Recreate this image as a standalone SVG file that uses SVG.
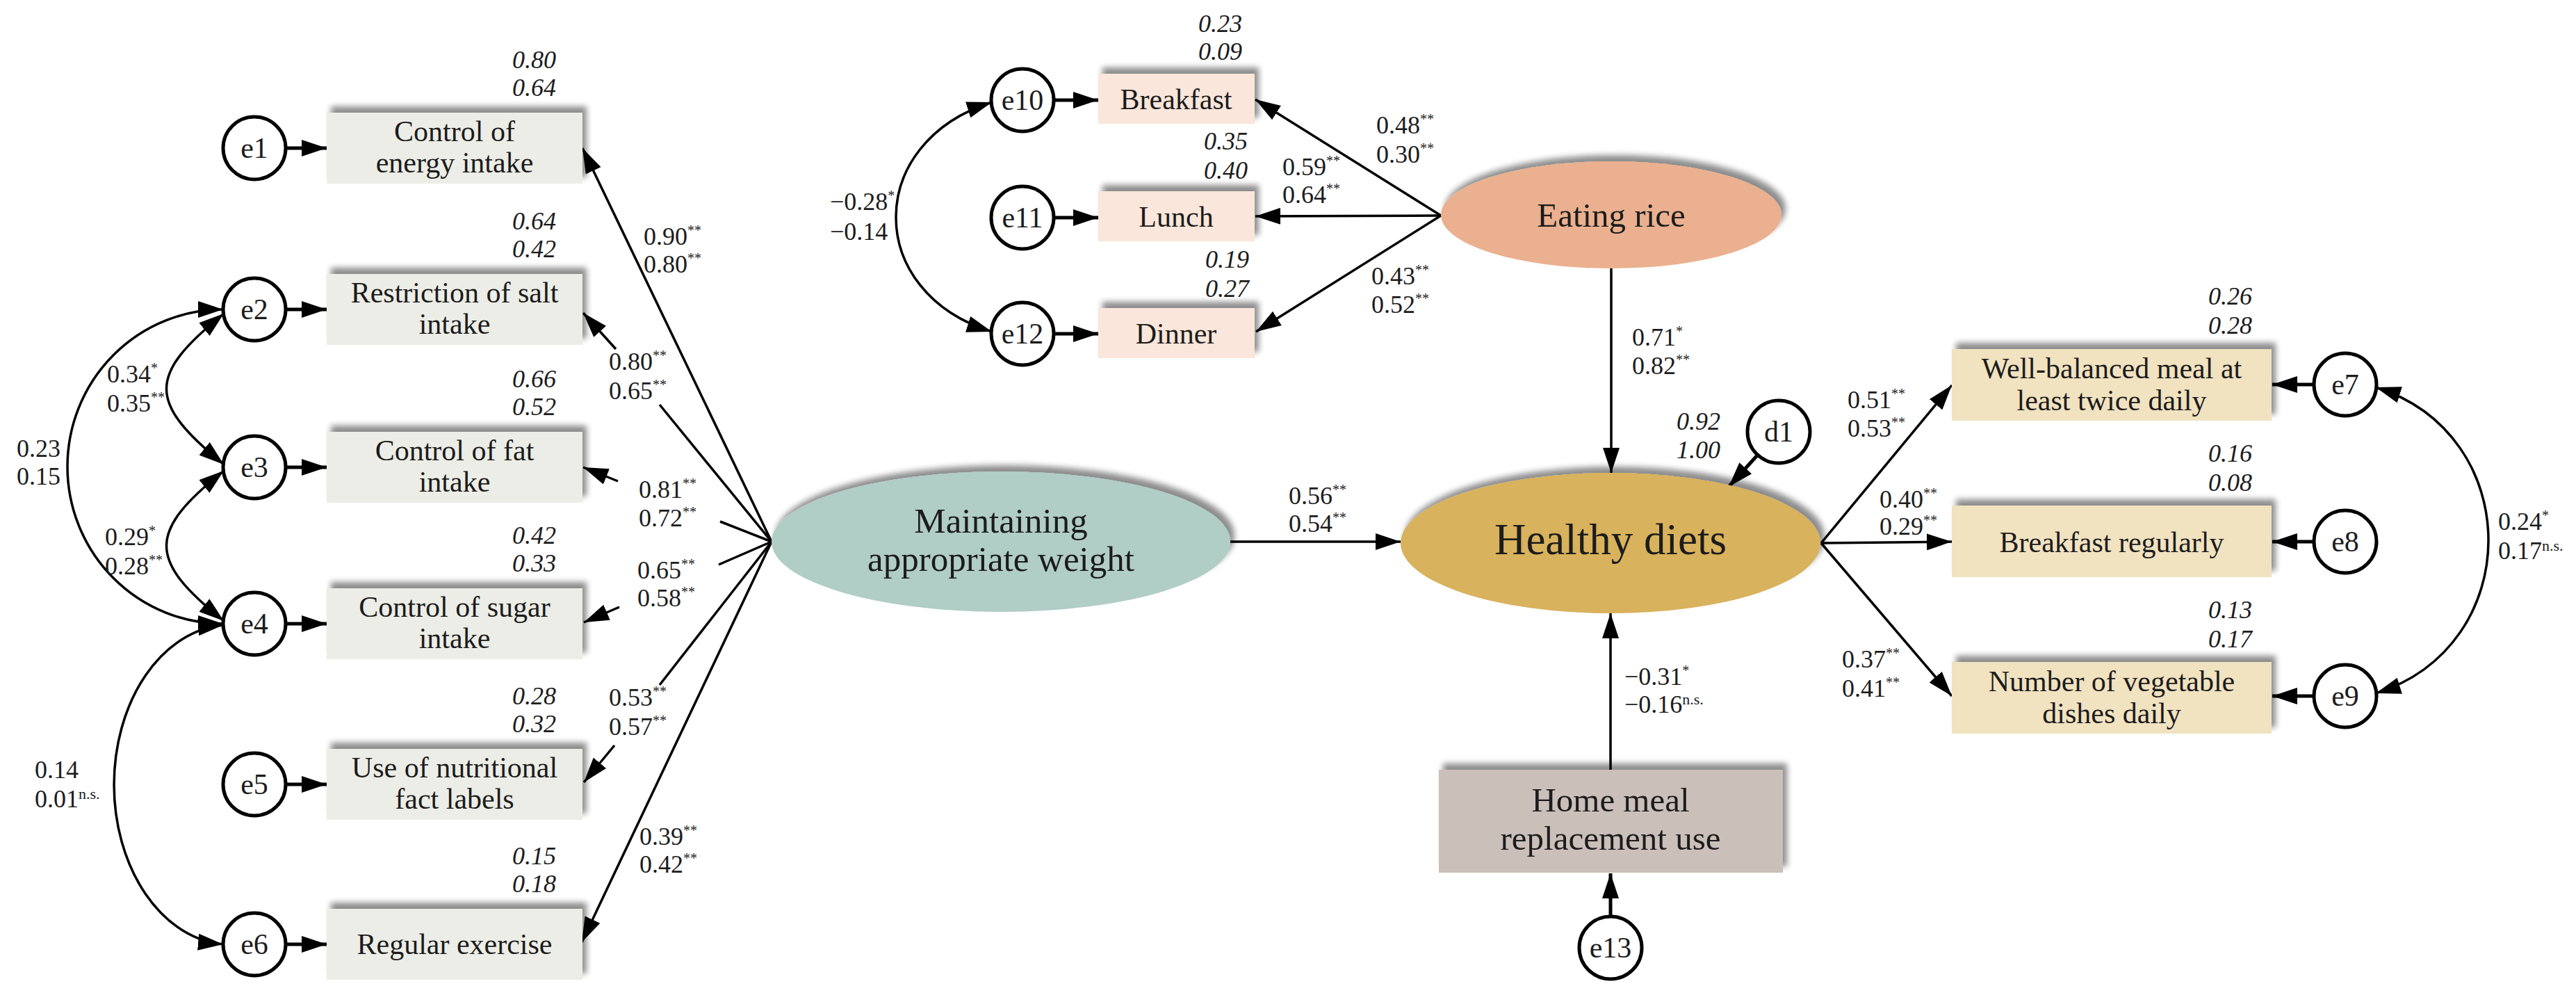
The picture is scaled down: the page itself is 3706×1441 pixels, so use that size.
<svg xmlns="http://www.w3.org/2000/svg" width="3706" height="1441" viewBox="0 0 3706 1441">
<style>
text{font-family:"Liberation Serif","Times New Roman",serif;fill:#1c1c1c}
.bx{font-size:42px;text-anchor:middle}
.el{font-size:42px;text-anchor:middle}
.lv{text-anchor:middle}
.c{font-size:36px}
.r2{font-size:36px;font-style:italic;text-anchor:end}
.s{font-size:20px}
.ns{font-size:22px}
.circ{fill:#fff;stroke:#000;stroke-width:5}
.ln{fill:none;stroke:#000;stroke-width:3.5}
.ea{fill:none;stroke:#000;stroke-width:5}
.g1{fill:#ecede6}
.g2{fill:#fae6da}
.g3{fill:#f1e2c0}
.g4{fill:#cbbfba}
</style>
<defs>
<marker id="ah" viewBox="0 0 36 24" refX="36" refY="12" markerWidth="36" markerHeight="24" markerUnits="userSpaceOnUse" orient="auto-start-reverse"><path d="M0,0 L36,12 L0,24 z" fill="#000"/></marker>
<filter id="sh" x="-5%" y="-25%" width="115%" height="150%">
<feGaussianBlur in="SourceAlpha" stdDeviation="4"/>
<feOffset dx="6" dy="-9"/>
<feComponentTransfer><feFuncA type="linear" slope="0.45"/></feComponentTransfer>
<feMerge><feMergeNode/><feMergeNode in="SourceGraphic"/></feMerge>
</filter>
</defs>
<rect width="3706" height="1441" fill="#fff"/>

<!-- connectors -->
<g id="connectors">
<!-- e -> left boxes -->
<path class="ea" d="M411,213 H470" marker-end="url(#ah)"/>
<path class="ea" d="M411,445 H470" marker-end="url(#ah)"/>
<path class="ea" d="M411,672 H470" marker-end="url(#ah)"/>
<path class="ea" d="M411,897 H470" marker-end="url(#ah)"/>
<path class="ea" d="M411,1128 H470" marker-end="url(#ah)"/>
<path class="ea" d="M411,1358 H470" marker-end="url(#ah)"/>
<!-- left covariances -->
<path class="ln" d="M322,451 C212,540 212,578 322,668" marker-start="url(#ah)" marker-end="url(#ah)"/>
<path class="ln" d="M322,677 C212,765 212,805 322,893" marker-start="url(#ah)" marker-end="url(#ah)"/>
<path class="ln" d="M321,445 A224 226 0 0 0 321,897" marker-start="url(#ah)" marker-end="url(#ah)"/>
<path class="ln" d="M321,899 A168 230 0 0 0 321,1358" marker-start="url(#ah)" marker-end="url(#ah)"/>
<!-- factor -> left boxes -->
<path class="ln" d="M1110,779 L838,213" marker-end="url(#ah)"/>
<path class="ln" d="M1110,779 L949,582"/>
<path class="ln" d="M886,502 L839,450" marker-end="url(#ah)"/>
<path class="ln" d="M1110,779 L1036,750"/>
<path class="ln" d="M889,692 L839,672" marker-end="url(#ah)"/>
<path class="ln" d="M1110,779 L1034,812"/>
<path class="ln" d="M891,873 L840,895" marker-end="url(#ah)"/>
<path class="ln" d="M1110,779 L949,985"/>
<path class="ln" d="M884,1072 L840,1125" marker-end="url(#ah)"/>
<path class="ln" d="M1110,779 L837,1355" marker-end="url(#ah)"/>
<!-- meals -->
<path class="ea" d="M1516,144 H1580" marker-end="url(#ah)"/>
<path class="ea" d="M1516,313 H1580" marker-end="url(#ah)"/>
<path class="ea" d="M1516,480 H1580" marker-end="url(#ah)"/>
<path class="ln" d="M1427,147 C1243,205 1243,420 1427,477" marker-start="url(#ah)" marker-end="url(#ah)"/>
<path class="ln" d="M2073,310 L1806,143" marker-end="url(#ah)"/>
<path class="ln" d="M2073,310 L1806,311" marker-end="url(#ah)"/>
<path class="ln" d="M2073,310 L1807,477" marker-end="url(#ah)"/>
<!-- structural -->
<path class="ln" d="M2318,386 V680" marker-end="url(#ah)"/>
<path class="ln" d="M1770,779 H2015" marker-end="url(#ah)"/>
<path class="ln" d="M2317,1107 V882" marker-end="url(#ah)"/>
<path class="ea" d="M2317,1318 V1256" marker-end="url(#ah)"/>
<path class="ea" d="M2528,655 L2487,700" marker-end="url(#ah)"/>
<!-- healthy -> right boxes -->
<path class="ln" d="M2620,781 L2808,554" marker-end="url(#ah)"/>
<path class="ln" d="M2620,781 L2808,779" marker-end="url(#ah)"/>
<path class="ln" d="M2620,781 L2808,1001" marker-end="url(#ah)"/>
<path class="ea" d="M3329,553 H3269" marker-end="url(#ah)"/>
<path class="ea" d="M3329,779 H3269" marker-end="url(#ah)"/>
<path class="ea" d="M3329,1001 H3269" marker-end="url(#ah)"/>
<path class="ln" d="M3418,557 C3634,625 3634,929 3418,997" marker-start="url(#ah)" marker-end="url(#ah)"/>
</g>

<!-- connector labels -->
<g id="labels">
<text class="c" x="926" y="352">0.90<tspan class="s" dy="-14">**</tspan></text>
<text class="c" x="926" y="392">0.80<tspan class="s" dy="-14">**</tspan></text>
<text class="c" x="876" y="532">0.80<tspan class="s" dy="-14">**</tspan></text>
<text class="c" x="876" y="574">0.65<tspan class="s" dy="-14">**</tspan></text>
<text class="c" x="919" y="716">0.81<tspan class="s" dy="-14">**</tspan></text>
<text class="c" x="919" y="757">0.72<tspan class="s" dy="-14">**</tspan></text>
<text class="c" x="917" y="832">0.65<tspan class="s" dy="-14">**</tspan></text>
<text class="c" x="917" y="872">0.58<tspan class="s" dy="-14">**</tspan></text>
<text class="c" x="876" y="1015">0.53<tspan class="s" dy="-14">**</tspan></text>
<text class="c" x="876" y="1057">0.57<tspan class="s" dy="-14">**</tspan></text>
<text class="c" x="920" y="1215">0.39<tspan class="s" dy="-14">**</tspan></text>
<text class="c" x="920" y="1255">0.42<tspan class="s" dy="-14">**</tspan></text>
<text class="c" x="24" y="657">0.23</text>
<text class="c" x="24" y="697">0.15</text>
<text class="c" x="154" y="550">0.34<tspan class="s" dy="-14">*</tspan></text>
<text class="c" x="154" y="592">0.35<tspan class="s" dy="-14">**</tspan></text>
<text class="c" x="151" y="784">0.29<tspan class="s" dy="-14">*</tspan></text>
<text class="c" x="151" y="826">0.28<tspan class="s" dy="-14">**</tspan></text>
<text class="c" x="50" y="1119">0.14</text>
<text class="c" x="50" y="1161">0.01<tspan class="ns" dy="-12">n.s.</tspan></text>
<text class="c" x="1194" y="302">−0.28<tspan class="s" dy="-14">*</tspan></text>
<text class="c" x="1194" y="345">−0.14</text>
<text class="c" x="1980" y="192">0.48<tspan class="s" dy="-14">**</tspan></text>
<text class="c" x="1980" y="234">0.30<tspan class="s" dy="-14">**</tspan></text>
<text class="c" x="1845" y="252">0.59<tspan class="s" dy="-14">**</tspan></text>
<text class="c" x="1845" y="292">0.64<tspan class="s" dy="-14">**</tspan></text>
<text class="c" x="1973" y="409">0.43<tspan class="s" dy="-14">**</tspan></text>
<text class="c" x="1973" y="450">0.52<tspan class="s" dy="-14">**</tspan></text>
<text class="c" x="2348" y="497">0.71<tspan class="s" dy="-14">*</tspan></text>
<text class="c" x="2348" y="538">0.82<tspan class="s" dy="-14">**</tspan></text>
<text class="c" x="1854" y="725">0.56<tspan class="s" dy="-14">**</tspan></text>
<text class="c" x="1854" y="765">0.54<tspan class="s" dy="-14">**</tspan></text>
<text class="c" x="2337" y="985">−0.31<tspan class="s" dy="-14">*</tspan></text>
<text class="c" x="2337" y="1025">−0.16<tspan class="ns" dy="-12">n.s.</tspan></text>
<text class="c" x="2658" y="587">0.51<tspan class="s" dy="-14">**</tspan></text>
<text class="c" x="2658" y="628">0.53<tspan class="s" dy="-14">**</tspan></text>
<text class="c" x="2704" y="730">0.40<tspan class="s" dy="-14">**</tspan></text>
<text class="c" x="2704" y="769">0.29<tspan class="s" dy="-14">**</tspan></text>
<text class="c" x="2650" y="960">0.37<tspan class="s" dy="-14">**</tspan></text>
<text class="c" x="2650" y="1002">0.41<tspan class="s" dy="-14">**</tspan></text>
<text class="c" x="3594" y="762">0.24<tspan class="s" dy="-14">*</tspan></text>
<text class="c" x="3594" y="804">0.17<tspan class="ns" dy="-12">n.s.</tspan></text>
</g>

<!-- left indicators -->
<g id="box-energy"><rect class="g1" x="470" y="162" width="368" height="102" filter="url(#sh)"/>
<text class="bx" x="654" y="203">Control of</text><text class="bx" x="654" y="248">energy intake</text>
<text class="r2" x="800" y="98">0.80</text><text class="r2" x="800" y="138">0.64</text></g>
<g id="box-salt"><rect class="g1" x="470" y="394" width="368" height="102" filter="url(#sh)"/>
<text class="bx" x="654" y="435">Restriction of salt</text><text class="bx" x="654" y="480">intake</text>
<text class="r2" x="800" y="330">0.64</text><text class="r2" x="800" y="370">0.42</text></g>
<g id="box-fat"><rect class="g1" x="470" y="621" width="368" height="102" filter="url(#sh)"/>
<text class="bx" x="654" y="662">Control of fat</text><text class="bx" x="654" y="707">intake</text>
<text class="r2" x="800" y="557">0.66</text><text class="r2" x="800" y="597">0.52</text></g>
<g id="box-sugar"><rect class="g1" x="470" y="846" width="368" height="102" filter="url(#sh)"/>
<text class="bx" x="654" y="887">Control of sugar</text><text class="bx" x="654" y="932">intake</text>
<text class="r2" x="800" y="782">0.42</text><text class="r2" x="800" y="822">0.33</text></g>
<g id="box-labels"><rect class="g1" x="470" y="1077" width="368" height="102" filter="url(#sh)"/>
<text class="bx" x="654" y="1118">Use of nutritional</text><text class="bx" x="654" y="1163">fact labels</text>
<text class="r2" x="800" y="1013">0.28</text><text class="r2" x="800" y="1053">0.32</text></g>
<g id="box-exercise"><rect class="g1" x="470" y="1307" width="368" height="102" filter="url(#sh)"/>
<text class="bx" x="654" y="1372">Regular exercise</text>
<text class="r2" x="800" y="1243">0.15</text><text class="r2" x="800" y="1283">0.18</text></g>

<g id="e1"><circle class="circ" cx="366" cy="213" r="45"/><text class="el" x="366" y="227">e1</text></g>
<g id="e2"><circle class="circ" cx="366" cy="445" r="45"/><text class="el" x="366" y="459">e2</text></g>
<g id="e3"><circle class="circ" cx="366" cy="672" r="45"/><text class="el" x="366" y="686">e3</text></g>
<g id="e4"><circle class="circ" cx="366" cy="897" r="45"/><text class="el" x="366" y="911">e4</text></g>
<g id="e5"><circle class="circ" cx="366" cy="1128" r="45"/><text class="el" x="366" y="1142">e5</text></g>
<g id="e6"><circle class="circ" cx="366" cy="1358" r="45"/><text class="el" x="366" y="1372">e6</text></g>

<!-- meals -->
<g id="box-breakfast"><rect class="g2" x="1580" y="106" width="225" height="72" filter="url(#sh)"/>
<text class="bx" x="1692" y="157">Breakfast</text>
<text class="r2" x="1787" y="46">0.23</text><text class="r2" x="1787" y="86">0.09</text></g>
<g id="box-lunch"><rect class="g2" x="1580" y="275" width="225" height="72" filter="url(#sh)"/>
<text class="bx" x="1692" y="326">Lunch</text>
<text class="r2" x="1795" y="215">0.35</text><text class="r2" x="1795" y="257">0.40</text></g>
<g id="box-dinner"><rect class="g2" x="1580" y="443" width="225" height="72" filter="url(#sh)"/>
<text class="bx" x="1692" y="494">Dinner</text>
<text class="r2" x="1797" y="385">0.19</text><text class="r2" x="1797" y="427">0.27</text></g>
<g id="e10"><circle class="circ" cx="1471" cy="144" r="45"/><text class="el" x="1471" y="158">e10</text></g>
<g id="e11"><circle class="circ" cx="1471" cy="313" r="45"/><text class="el" x="1471" y="327">e11</text></g>
<g id="e12"><circle class="circ" cx="1471" cy="480" r="45"/><text class="el" x="1471" y="494">e12</text></g>

<!-- latent factors -->
<g id="eating-rice"><ellipse cx="2318" cy="309" rx="245" ry="77" fill="#eab08f" filter="url(#sh)"/>
<text class="lv" x="2318" y="326" font-size="49">Eating rice</text></g>
<g id="maintaining-weight"><ellipse cx="1440" cy="779" rx="330" ry="101" fill="#b0cdc6" filter="url(#sh)"/>
<text class="lv" x="1440" y="766" font-size="51">Maintaining</text><text class="lv" x="1440" y="821" font-size="51">appropriate weight</text></g>
<g id="healthy-diets"><ellipse cx="2317" cy="781" rx="302" ry="101" fill="#d8b25c" filter="url(#sh)"/>
<text class="lv" x="2317" y="797" font-size="63">Healthy diets</text>
<text class="r2" x="2475" y="618">0.92</text><text class="r2" x="2475" y="659">1.00</text></g>
<g id="d1"><circle class="circ" cx="2559" cy="621" r="45"/><text class="el" x="2559" y="635">d1</text></g>

<g id="home-meal"><rect class="g4" x="2070" y="1107" width="495" height="148" filter="url(#sh)"/>
<text class="lv" x="2317" y="1167" font-size="49">Home meal</text><text class="lv" x="2317" y="1222" font-size="49">replacement use</text></g>
<g id="e13"><circle class="circ" cx="2317" cy="1363" r="45"/><text class="el" x="2317" y="1377">e13</text></g>

<!-- right indicators -->
<g id="box-wellbalanced"><rect class="g3" x="2808" y="502" width="460" height="103" filter="url(#sh)"/>
<text class="bx" x="3038" y="544">Well-balanced meal at</text><text class="bx" x="3038" y="590">least twice daily</text>
<text class="r2" x="3240" y="438">0.26</text><text class="r2" x="3240" y="480">0.28</text></g>
<g id="box-breakfast-reg"><rect class="g3" x="2808" y="727" width="460" height="103" filter="url(#sh)"/>
<text class="bx" x="3038" y="794">Breakfast regularly</text>
<text class="r2" x="3240" y="664">0.16</text><text class="r2" x="3240" y="706">0.08</text></g>
<g id="box-vegetable"><rect class="g3" x="2808" y="952" width="460" height="103" filter="url(#sh)"/>
<text class="bx" x="3038" y="994">Number of vegetable</text><text class="bx" x="3038" y="1040">dishes daily</text>
<text class="r2" x="3240" y="889">0.13</text><text class="r2" x="3240" y="931">0.17</text></g>
<g id="e7"><circle class="circ" cx="3374" cy="553" r="45"/><text class="el" x="3374" y="567">e7</text></g>
<g id="e8"><circle class="circ" cx="3374" cy="779" r="45"/><text class="el" x="3374" y="793">e8</text></g>
<g id="e9"><circle class="circ" cx="3374" cy="1001" r="45"/><text class="el" x="3374" y="1015">e9</text></g>
</svg>
